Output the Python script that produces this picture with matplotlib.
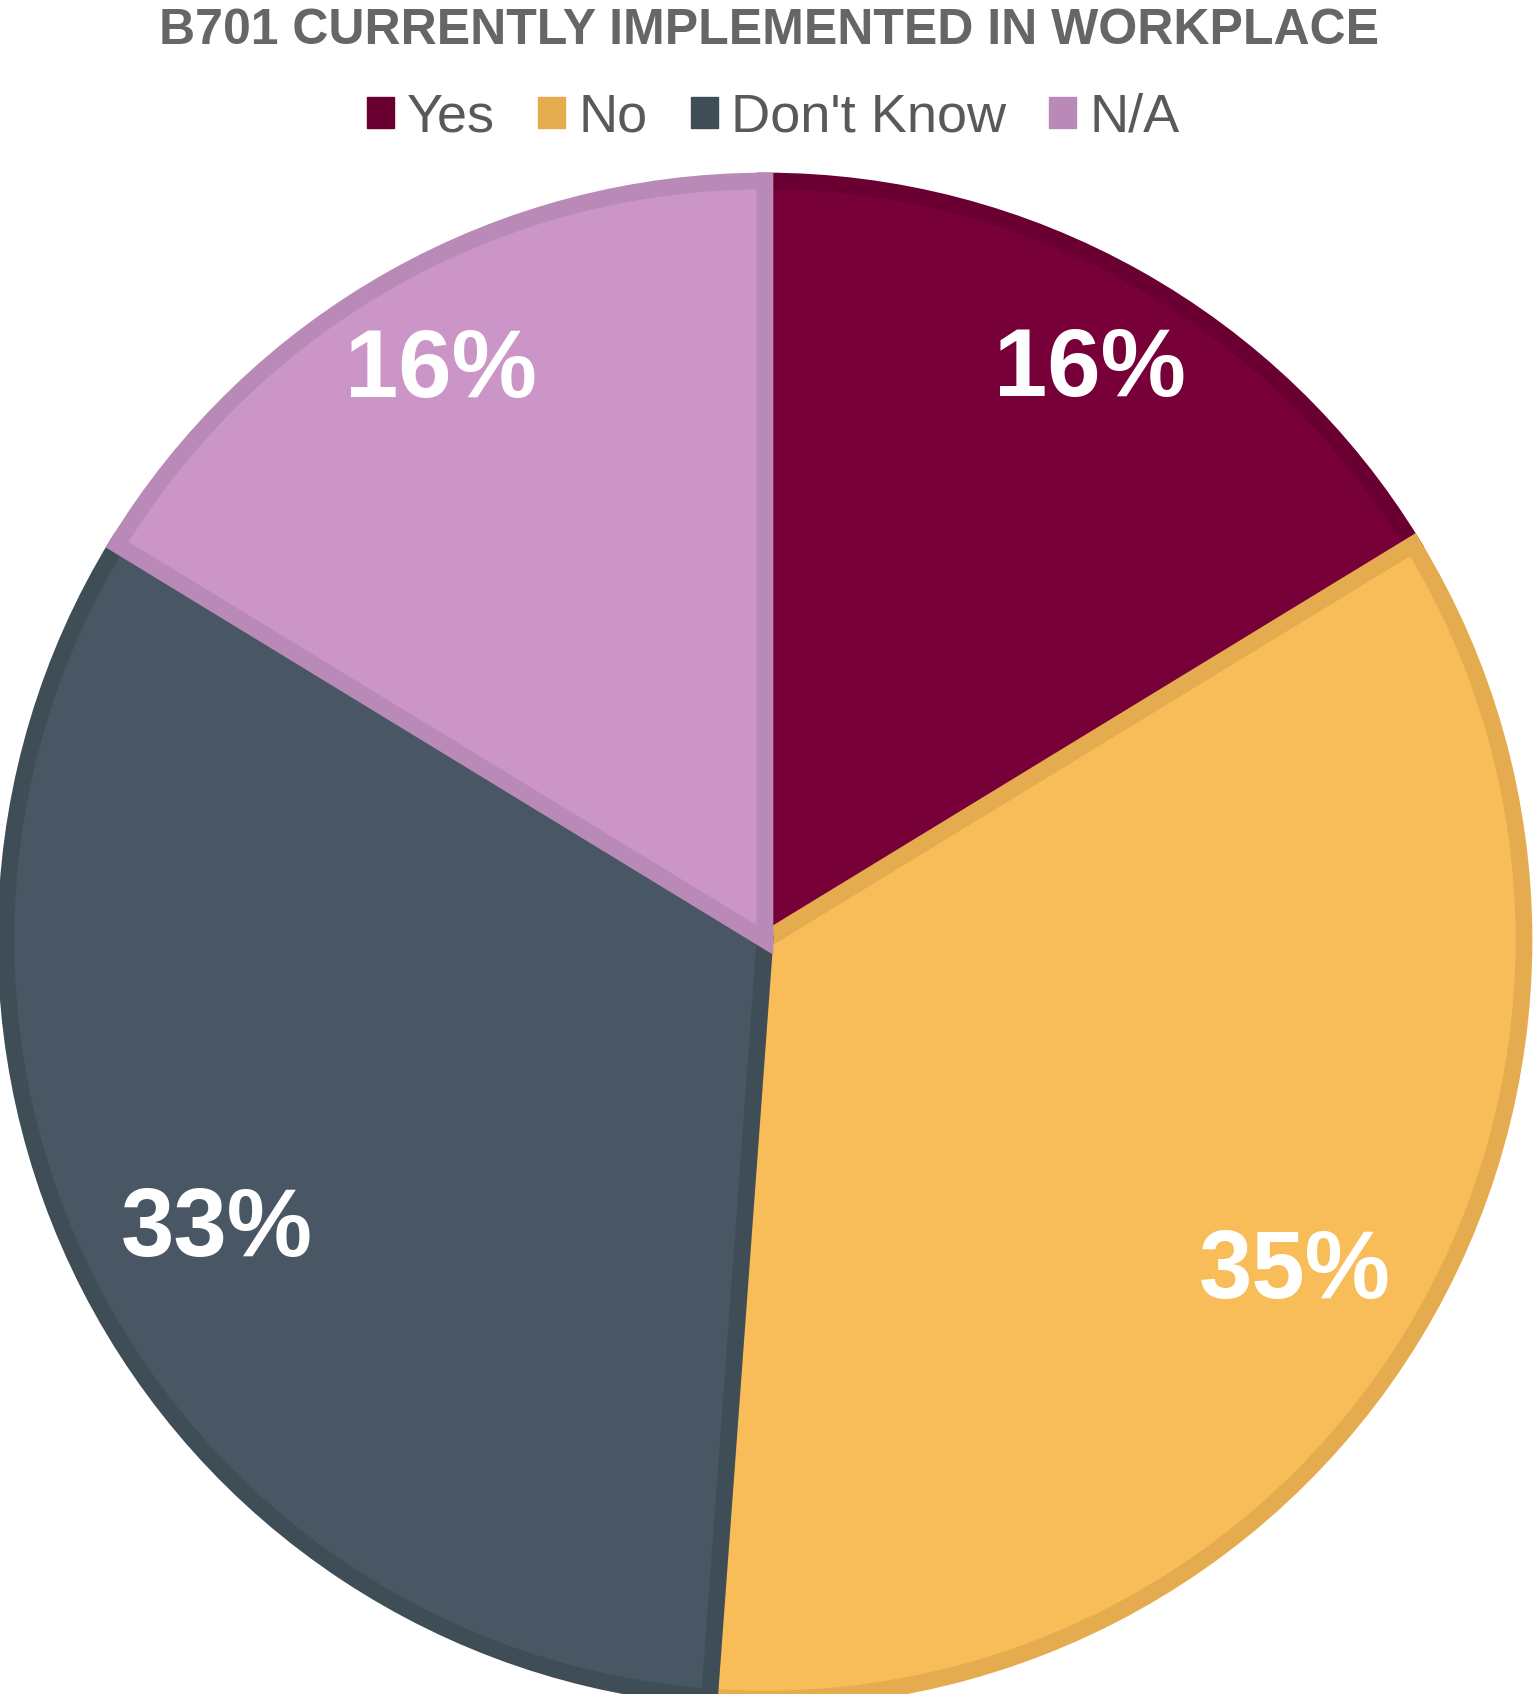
import matplotlib
matplotlib.use("Agg")
import matplotlib.pyplot as plt
from matplotlib.patches import Patch
from matplotlib.transforms import offset_copy
import numpy as np

plt.rcParams['font.family'] = ['Liberation Sans', 'DejaVu Sans']

# Survey responses
categories = ["Yes", "No", "Don't Know", "N/A"]
counts = [7, 15, 14, 7]

fill_colors = ["#780038", "#F8BC58", "#485763", "#CB95C8"]
edge_colors = ["#6A0031", "#E5AB4F", "#3F4D57", "#B98AB8"]
label_dist = [0.874, 0.818, 0.812, 0.872]

W, H = 1538, 1694
fig = plt.figure(figsize=(W / 100, H / 100), dpi=100)

# pie axes: centre and radius in pixels
cx, cy, r = 765, 940, 759
ax = fig.add_axes([(cx - r) / W, (H - cy - r) / H, 2 * r / W, 2 * r / H])

total = sum(counts)
wedges, _ = ax.pie(counts, colors=fill_colors, startangle=90, counterclock=False,
                   radius=1, center=(0, 0), frame=False,
                   wedgeprops=dict(linewidth=0))
ax.set_xlim(-1, 1)
ax.set_ylim(-1, 1)
ax.set_aspect('equal')
ax.axis('off')

# inner border: a thick edge clipped to the wedge itself
for w, ec in zip(wedges, edge_colors):
    w.set_edgecolor(ec)
    w.set_linewidth(12)
    w.set_clip_path(w)

# percentage labels, glyphs vertically centred on the anchor point
label_size = 69
cap = 0.716 * label_size
label_tf = offset_copy(ax.transData, fig=fig, y=-cap / 2, units='points')
for w, c, d in zip(wedges, counts, label_dist):
    ang = np.deg2rad((w.theta1 + w.theta2) / 2)
    ax.text(d * np.cos(ang), d * np.sin(ang), f"{round(100 * c / total)}%",
            transform=label_tf, ha='center', va='baseline', color='white',
            fontsize=label_size, fontweight='bold')

fig.text(0.5, 1 - 31 / H, "B701 CURRENTLY IMPLEMENTED IN WORKPLACE",
         ha='center', va='center', color='#666666', fontsize=36, fontweight='bold')

handles = [Patch(facecolor=ec, edgecolor=ec) for ec in edge_colors]
fig.legend(handles, categories, loc='center', bbox_to_anchor=(773 / W, 1 - 118 / H),
           ncol=4, frameon=False, fontsize=39, labelcolor='#595959',
           handlelength=0.5, handleheight=0.5, handletextpad=0.24,
           columnspacing=0.8, borderpad=0)

fig.savefig("out.png", dpi=100, facecolor='white')
